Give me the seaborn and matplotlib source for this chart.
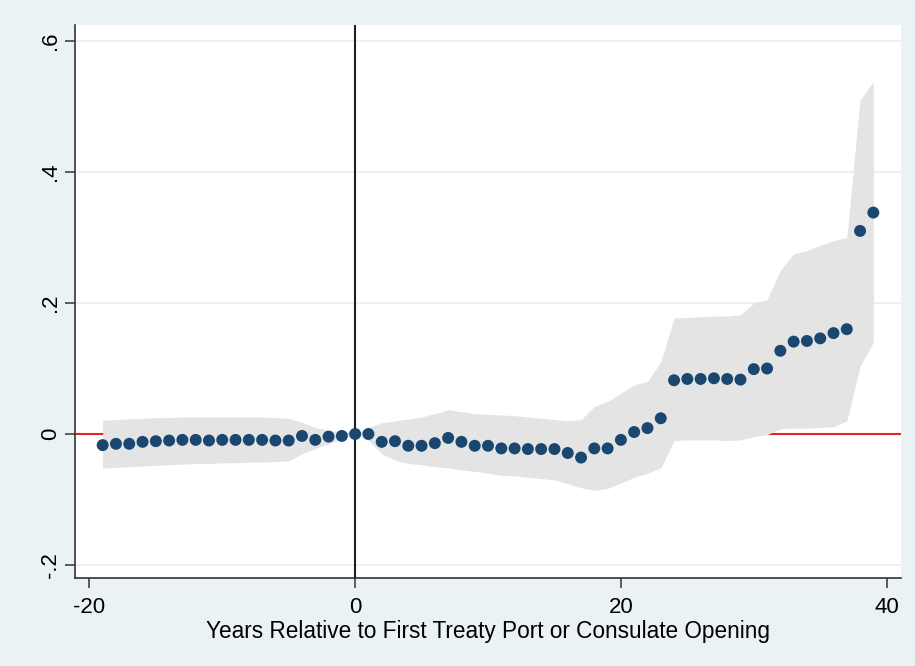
import matplotlib
matplotlib.use("Agg")
import matplotlib.pyplot as plt
import numpy as np
import pandas as pd
import seaborn as sns

# Event-study coefficients by year relative to first treaty port / consulate opening
years = list(range(-19, 40))

coef = [
    -0.017, -0.015, -0.015, -0.012, -0.011, -0.010, -0.009, -0.009, -0.010, -0.009,
    -0.009, -0.009, -0.009, -0.010, -0.010, -0.003, -0.009, -0.004, -0.003, 0.000,
    0.000, -0.012, -0.011, -0.018, -0.018, -0.014, -0.006, -0.012, -0.018, -0.018,
    -0.022, -0.022, -0.023, -0.023, -0.023, -0.029, -0.036, -0.022, -0.022, -0.009,
    0.003, 0.009, 0.024, 0.082, 0.084, 0.084, 0.085, 0.084, 0.083, 0.099,
    0.100, 0.127, 0.141, 0.142, 0.146, 0.154, 0.160, 0.310, 0.338,
]

ci_upper = [
    0.021, 0.022, 0.023, 0.024, 0.025, 0.025, 0.026, 0.026, 0.026, 0.026,
    0.026, 0.026, 0.026, 0.025, 0.024, 0.018, 0.010, 0.006, 0.003, 0.000,
    0.010, 0.017, 0.020, 0.023, 0.026, 0.031, 0.037, 0.034, 0.031, 0.030,
    0.029, 0.028, 0.026, 0.024, 0.022, 0.020, 0.022, 0.042, 0.050, 0.062,
    0.075, 0.080, 0.110, 0.177, 0.178, 0.179, 0.180, 0.180, 0.182, 0.200,
    0.205, 0.250, 0.275, 0.280, 0.288, 0.295, 0.300, 0.510, 0.538,
]

ci_lower = [
    -0.052, -0.051, -0.050, -0.049, -0.048, -0.047, -0.046, -0.045, -0.045, -0.044,
    -0.044, -0.043, -0.043, -0.042, -0.041, -0.030, -0.022, -0.015, -0.008, 0.000,
    -0.010, -0.030, -0.040, -0.045, -0.047, -0.050, -0.052, -0.055, -0.057, -0.060,
    -0.063, -0.064, -0.066, -0.068, -0.070, -0.076, -0.082, -0.086, -0.083, -0.075,
    -0.066, -0.060, -0.052, -0.010, -0.009, -0.009, -0.009, -0.010, -0.009, -0.004,
    -0.001, 0.008, 0.009, 0.009, 0.010, 0.011, 0.020, 0.103, 0.140,
]

x_ticks = [-20, 0, 20, 40]
x_tick_labels = ["-20", "0", "20", "40"]
y_ticks = [-0.2, 0.0, 0.2, 0.4, 0.6]
y_tick_labels = ["-.2", "0", ".2", ".4", ".6"]
x_label = "Years Relative to First Treaty Port or Consulate Opening"

df = pd.DataFrame({"year": years, "coef": coef, "lo": ci_lower, "hi": ci_upper})

sns.set_theme(style="white")
plt.rcParams["font.family"] = ["Liberation Sans", "DejaVu Sans"]

bg = "#EAF2F3"
fig = plt.figure(figsize=(9.15, 6.66), dpi=100, facecolor=bg)
ax = fig.add_axes([0.0820, 0.1314, 0.9027, 0.8311])
ax.set_facecolor("white")

# horizontal grid
for yt in y_ticks:
    ax.axhline(yt, color="#E8EEF0", lw=1.2, zorder=0)

# zero reference line sits beneath the confidence band
ax.axhline(0, color="#E8231F", lw=1.5, zorder=1)

# 95% confidence band
ax.fill_between(df["year"], df["lo"], df["hi"], color="#E4E4E4", lw=0, zorder=2)

# event date
ax.axvline(0, color="#1E1E1E", lw=1.5, zorder=3)

sns.scatterplot(data=df, x="year", y="coef", color="#1A476F", s=74,
                edgecolor="none", linewidth=0, ax=ax, zorder=4, legend=False)

ax.set_xlim(-21.08, 41.08)
ax.set_ylim(-0.2206, 0.6244)
ax.set_xticks(x_ticks)
ax.set_xticklabels(x_tick_labels)
ax.set_yticks(y_ticks)
ax.set_yticklabels(y_tick_labels, rotation=90, va="center")

for side in ["top", "right"]:
    ax.spines[side].set_visible(False)
for side in ["left", "bottom"]:
    ax.spines[side].set_color("#333333")
    ax.spines[side].set_linewidth(1.2)

ax.tick_params(axis="both", which="major", direction="out", length=7, width=1.1,
               color="#333333", labelsize=16, labelcolor="black", pad=6,
               left=True, bottom=True)
ax.tick_params(axis="y", pad=3)

ax.set_xlabel(x_label, fontsize=16.3, color="black", labelpad=2)
ax.set_ylabel("")

fig.savefig("out.png", dpi=100, facecolor=bg)
